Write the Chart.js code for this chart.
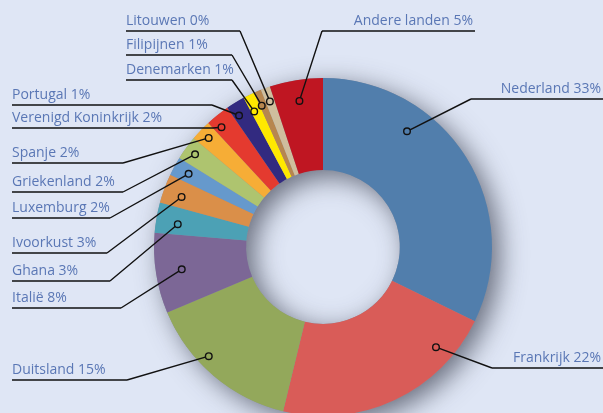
<!DOCTYPE html>
<html>
<head>
<meta charset="utf-8">
<script src="https://cdn.jsdelivr.net/npm/chart.js@4.4.1/dist/chart.umd.min.js"></script>
<style>
    html, body { margin: 0; padding: 0; background: #dfe6f5; overflow: hidden; width: 603px; height: 413px; }
    canvas { display: block; }
</style>
</head>
<body>
<canvas id="donutChart" width="603" height="430"></canvas>
<script>
// DONUT - herkomst per land

const countries = ['Nederland', 'Frankrijk', 'Duitsland', 'Italië', 'Ghana', 'Ivoorkust', 'Luxemburg',
    'Griekenland', 'Spanje', 'Verenigd Koninkrijk', 'Portugal', 'Denemarken', 'Filipijnen', 'Litouwen', 'Andere landen'];
// slice sizes
const shares = [32.3, 21.6, 14.9, 7.7, 2.9, 2.8, 1.8, 2.3, 2.0, 2.3, 1.8, 1.1, 0.7, 0.9, 5.1];
// percentages as printed in the labels
const printed = [33, 22, 15, 8, 3, 3, 2, 2, 2, 2, 1, 1, 1, 0, 5];
const sliceColors = ['#517eac', '#d95c58', '#93a85b', '#7c6796', '#4ca1b5', '#da8f49', '#6699cc',
    '#aec46f', '#f6ad36', '#e43a2f', '#322a80', '#ffe800', '#b7864f', '#cfbe9d', '#bf1622'];

// callout layout: x1, x2 of underline, y of underline, side of text, position of dot in slice (0-1), dot distance
const callouts = [
    [471, 603, 99, 'right', 0.31, 143],
    [492, 603, 368, 'right', 0.2, 151],
    [12, 127, 380, 'left', 0.61, 158],
    [12, 121, 308, 'left', 0.5, 143],
    [12, 110, 281, 'left', 0.39, 147],
    [12, 107, 253, 'left', 0.42, 150],
    [12, 110, 218, 'left', 0.5, 153],
    [12, 123, 192, 'left', 0.5, 158],
    [12, 123, 163, 'left', 0.5, 158],
    [12, 213, 128, 'left', 0.3, 157],
    [12, 212, 105, 'left', 0.3, 156],
    [126, 232, 80, 'left', 0.28, 152],
    [126, 232, 55, 'left', 0.25, 154],
    [126, 240, 31, 'left', 0.47, 155],
    [322, 475, 31, 'right', 0.5, 148]
];

const textColor = '#5a77b5';

// shadow under the whole ring (drawn once so slices don't shade each other)
const ringShadow = {
    id: 'ringShadow',
    beforeDatasetsDraw(chart) {
        let arc = chart.getDatasetMeta(0).data[0];
        let ctx = chart.ctx;
        ctx.save();
        ctx.shadowColor = 'rgba(55, 60, 75, 0.7)';
        ctx.shadowBlur = 26;
        ctx.shadowOffsetX = 8;
        ctx.shadowOffsetY = 7;
        ctx.fillStyle = '#8a90a0';
        ctx.beginPath();
        ctx.arc(arc.x, arc.y, arc.outerRadius, 0, Math.PI * 2);
        ctx.arc(arc.x, arc.y, arc.innerRadius, 0, Math.PI * 2, true);
        ctx.fill();
        ctx.restore();
    }
};

const calloutLabels = {
    id: 'calloutLabels',
    afterDatasetsDraw(chart) {
        let meta = chart.getDatasetMeta(0);
        let ctx = chart.ctx;
        ctx.save();
        ctx.font = '14px "Open Sans", sans-serif';
        ctx.textBaseline = 'alphabetic';
        for (let i = 0; i < countries.length; i++) {
            let arc = meta.data[i];
            let c = callouts[i];
            let ang = arc.startAngle + (arc.endAngle - arc.startAngle) * c[4];
            let px = arc.x + Math.cos(ang) * c[5];
            let py = arc.y + Math.sin(ang) * c[5];
            let elbowX = c[3] === 'left' ? c[1] : c[0];

            ctx.strokeStyle = '#111';
            ctx.lineWidth = 1.4;
            ctx.beginPath();
            ctx.moveTo(c[0], c[2]);
            ctx.lineTo(c[1], c[2]);
            ctx.moveTo(elbowX, c[2]);
            ctx.lineTo(px, py);
            ctx.stroke();

            ctx.fillStyle = sliceColors[i];
            ctx.beginPath();
            ctx.arc(px, py, 3.3, 0, Math.PI * 2);
            ctx.fill();
            ctx.stroke();

            ctx.fillStyle = textColor;
            let txt = countries[i] + ' ' + printed[i] + '%';
            if (c[3] === 'left') {
                ctx.textAlign = 'left';
                ctx.fillText(txt, c[0], c[2] - 6);
            } else {
                ctx.textAlign = 'right';
                ctx.fillText(txt, c[1] - 2, c[2] - 6);
            }
        }
        ctx.restore();
    }
};

let donutChartCanvas = document.getElementById('donutChart').getContext('2d');
let donutChart = new Chart(donutChartCanvas, {
    type: 'doughnut',
    data: {
        labels: countries,
        datasets: [{
            data: shares,
            backgroundColor: sliceColors,
            borderWidth: 0
        }]
    },
    options: {
        responsive: false,
        animation: false,
        cutout: '45.5%',
        layout: { padding: { top: 78, bottom: 14, left: 154, right: 111 } },
        plugins: {
            legend: { display: false },
            tooltip: { enabled: false }
        }
    },
    plugins: [ringShadow, calloutLabels]
});
</script>
</body>
</html>
